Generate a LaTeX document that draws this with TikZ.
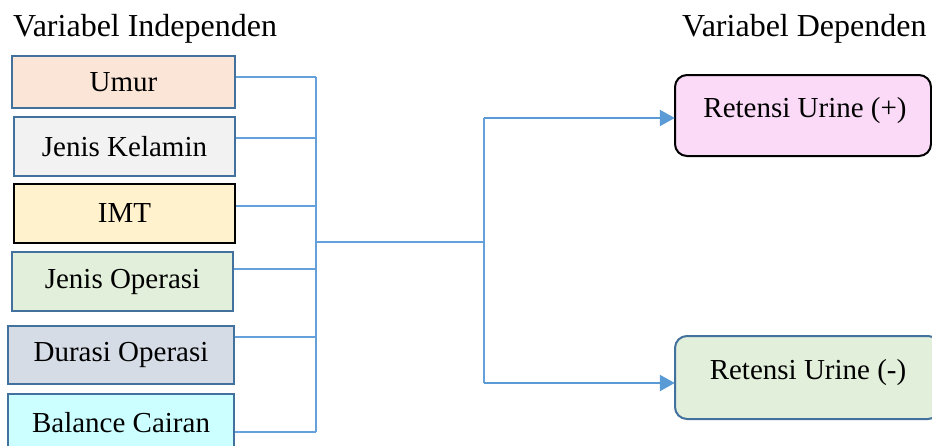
\documentclass[tikz,border=0pt]{standalone}
\usepackage{fontspec}
\setmainfont{Liberation Serif}
\usetikzlibrary{arrows.meta}
\definecolor{linkblue}{RGB}{100,160,218}
\definecolor{arrowblue}{RGB}{91,155,213}
\definecolor{edgeblue}{RGB}{65,113,156}
\definecolor{peach}{RGB}{251,229,214}
\definecolor{lightgrey}{RGB}{242,242,242}
\definecolor{cream}{RGB}{255,242,204}
\definecolor{palegreen}{RGB}{226,239,218}
\definecolor{bluegrey}{RGB}{214,220,229}
\definecolor{palecyan}{RGB}{204,255,255}
\definecolor{palepink}{RGB}{251,218,248}
\tikzset{
  varbox/.style={draw=edgeblue, line width=2pt, inner sep=0pt, anchor=center,
    font=\fontsize{29}{34}\selectfont},
  outbox/.style={line width=2pt, rounded corners=12pt, inner sep=0pt},
  outtext/.style={anchor=base, inner sep=0pt, font=\fontsize{29}{34}\selectfont},
  heading/.style={anchor=base west, inner sep=0pt, font=\fontsize{32}{38}\selectfont},
  link/.style={draw=linkblue, line width=1.8pt},
  arrowlink/.style={draw=arrowblue, line width=2.2pt, -{Triangle[length=15pt,width=16pt]}}
}
\begin{document}
\begin{tikzpicture}[x=1pt,y=-1pt]
\useasboundingbox (0,0) rectangle (932,445);

% headings
\node[heading] (hind) at (13,36) {Variabel Independen};
\node[heading] (hdep) at (682,36) {Variabel Dependen};

% independent variables
\node[varbox, fill=peach, minimum width=223pt, minimum height=52pt] (umur) at (123.5,82) {Umur};
\node[varbox, fill=lightgrey, minimum width=221pt, minimum height=59pt] (jk) at (124.5,146.5) {Jenis Kelamin};
\node[varbox, draw=black, fill=cream, minimum width=221pt, minimum height=59pt] (imt) at (124.5,213.5) {IMT};
\node[varbox, fill=palegreen, minimum width=221pt, minimum height=59pt] (jo) at (122.5,281.5) {Jenis Operasi};
\node[varbox, fill=bluegrey, minimum width=226pt, minimum height=58pt] (do) at (121,355) {Durasi Operasi};
\node[varbox, fill=palecyan, minimum width=226pt, minimum height=58pt] (bc) at (121,423) {Balance Cairan};

% dependent variables
\draw[outbox, draw=black, fill=palepink] (675,75) rectangle (931,156);
\node[inner sep=0pt, minimum width=256pt, minimum height=81pt] (rpos) at (803,115.5) {};
\node[outtext] (rpost) at (805,117) {Retensi Urine (+)};
\draw[outbox, draw=edgeblue, fill=palegreen] (675,336) rectangle (940,419);
\node[inner sep=0pt, minimum width=256pt, minimum height=83pt] (rneg) at (803,377.5) {};
\node[outtext] (rnegt) at (808,379) {Retensi Urine (-)};

% collecting bus
\coordinate (bustop) at (316,77);
\coordinate (busbot) at (316,432);
\coordinate (busmid) at (316,242);
\coordinate (split) at (484,242);
\coordinate (splittop) at (484,118);
\coordinate (splitbot) at (484,383);

\draw[link] (umur.east |- bustop) -- (bustop);
\draw[link] (jk.east |- 316,138) -- (316,138);
\draw[link] (imt.east |- 316,206) -- (316,206);
\draw[link] (jo.east |- 316,269) -- (316,269);
\draw[link] (do.east |- 316,337) -- (316,337);
\draw[link] (bc.east |- busbot) -- (busbot);
\draw[link] (bustop) -- (busbot);
\draw[link] (busmid) -- (split);
\draw[link] (splittop) -- (splitbot);
\draw[arrowlink] (splittop) -- (rpos.west |- splittop);
\draw[arrowlink] (splitbot) -- (rneg.west |- splitbot);
\end{tikzpicture}
\end{document}
